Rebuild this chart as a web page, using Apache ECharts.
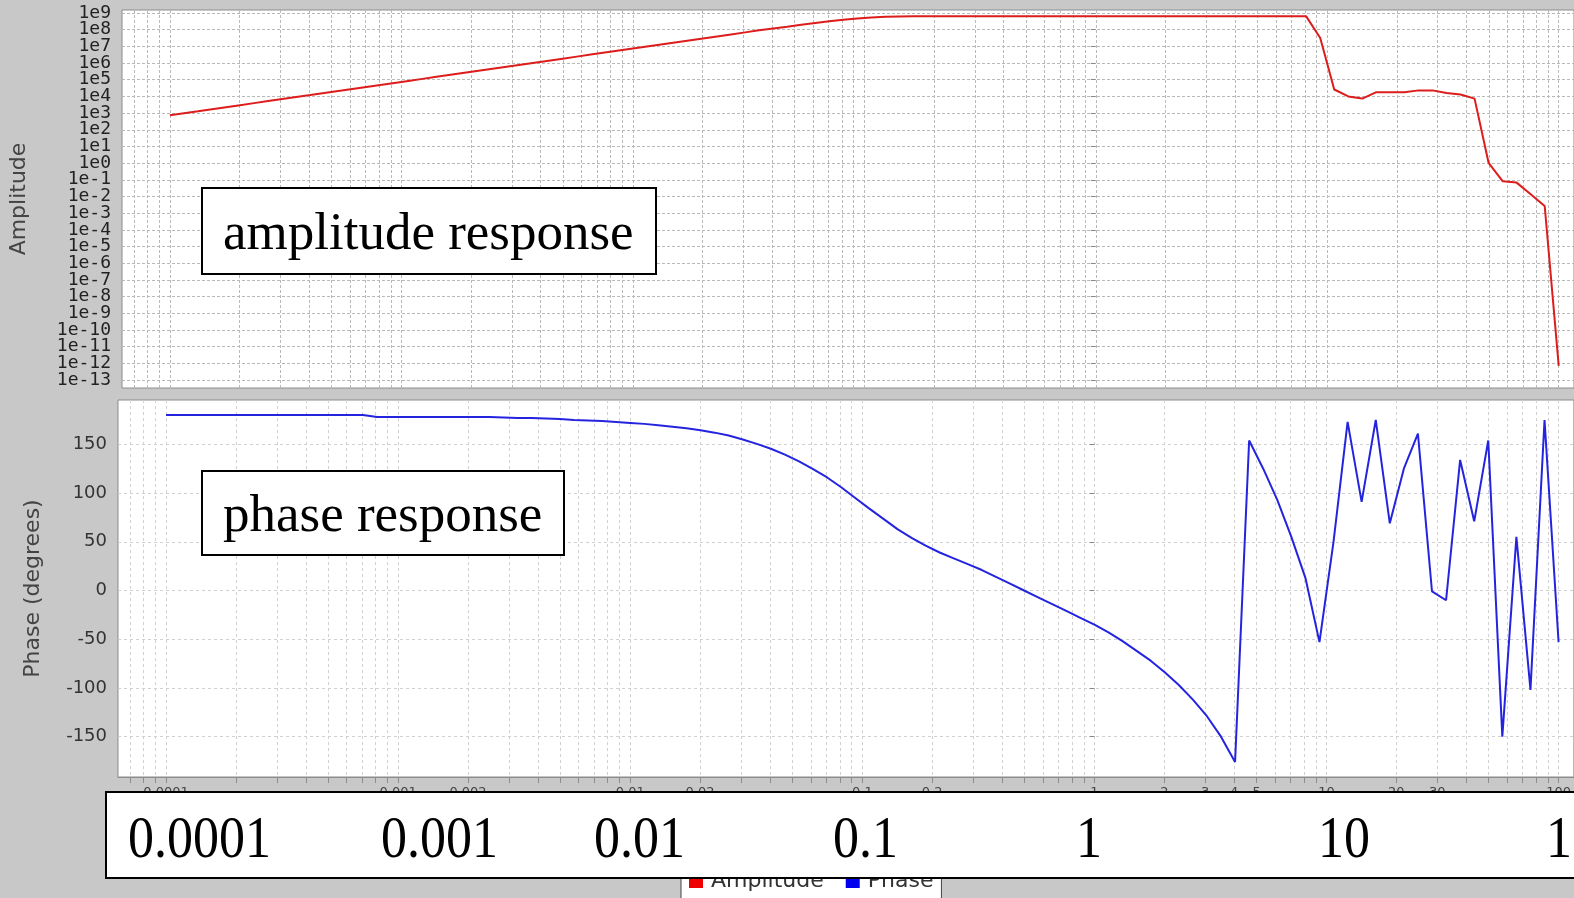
<!DOCTYPE html>
<html><head><meta charset="utf-8">
<script src="https://cdn.jsdelivr.net/npm/echarts@6/dist/echarts.min.js"></script>
<style>html,body{margin:0;padding:0;background:#c8c8c8;overflow:hidden}#chart{width:1574px;height:898px}</style>
</head><body><div id="chart"></div>
<script>
// ---- data ----
const freq = [
  0.0001, 0.000115, 0.0001322, 0.000152, 0.0001747, 0.0002009, 0.000231, 0.0002656, 0.0003054, 0.0003511, 0.0004037,
  0.0004642, 0.0005337, 0.0006136, 0.0007055, 0.0008111, 0.0009326, 0.001072, 0.001233, 0.001417, 0.00163, 0.001874,
  0.002154, 0.002477, 0.002848, 0.003275, 0.003765, 0.004329, 0.004977, 0.005722, 0.006579, 0.007565, 0.008698,
  0.01, 0.0115, 0.01322, 0.0152, 0.01747, 0.02009, 0.0231, 0.02656, 0.03054, 0.03511, 0.04037,
  0.04642, 0.05337, 0.06136, 0.07055, 0.08111, 0.09326, 0.1072, 0.1233, 0.1417, 0.163, 0.1874,
  0.2154, 0.2477, 0.2848, 0.3275, 0.3765, 0.4329, 0.4977, 0.5722, 0.6579, 0.7565, 0.8698,
  1, 1.15, 1.322, 1.52, 1.747, 2.009, 2.31, 2.656, 3.054, 3.511, 4.037,
  4.642, 5.337, 6.136, 7.055, 8.111, 9.326, 10.72, 12.33, 14.17, 16.3, 18.74,
  21.54, 24.77, 28.48, 32.75, 37.65, 43.29, 49.77, 57.22, 65.79, 75.65, 86.98,
  100
];
const amplitude = [
  741, 980, 1295, 1714, 2265, 2994, 3957, 5231, 6914, 9139,
  1.208e4, 1.597e4, 2.111e4, 2.790e4, 3.688e4, 4.875e4, 6.444e4, 8.518e4, 1.126e5, 1.488e5,
  1.967e5, 2.600e5, 3.437e5, 4.543e5, 6.005e5, 7.938e5, 1.049e6, 1.387e6, 1.834e6, 2.424e6,
  3.204e6, 4.235e6, 5.598e6, 7.400e6, 9.781e6, 1.293e7, 1.709e7, 2.259e7, 2.986e7, 3.947e7,
  5.218e7, 6.897e7, 9.117e7, 1.175e8, 1.51e8, 1.95e8, 2.51e8, 3.16e8, 3.89e8, 4.68e8,
  5.37e8, 5.89e8, 6.17e8, 6.31e8, 6.4e8, 6.4e8, 6.4e8, 6.4e8, 6.4e8, 6.4e8,
  6.4e8, 6.4e8, 6.4e8, 6.4e8, 6.4e8, 6.4e8, 6.4e8, 6.4e8, 6.4e8, 6.4e8,
  6.4e8, 6.4e8, 6.4e8, 6.4e8, 6.4e8, 6.4e8, 6.4e8, 6.4e8, 6.4e8, 6.4e8,
  6.4e8, 6.3e8, 3.2e7, 2.6e4, 1.0e4, 7.4e3, 1.8e4, 1.8e4, 1.8e4, 2.3e4,
  2.3e4, 1.6e4, 1.3e4, 7.4e3, 1.05, 8.3e-2, 6.8e-2, 1.35e-2, 2.7e-3, 7.1e-13
];
const phase = [
  180, 180, 180, 180, 180, 180, 180, 180, 180, 180,
  180, 180, 180, 180, 180, 178, 178, 178, 178, 178,
  178, 178, 178, 178, 177.5, 177, 177, 176.5, 176, 175,
  174.5, 174, 173, 172, 171, 169.5, 168, 166.5, 164.5, 162,
  159, 155, 150.5, 145.5, 139.5, 132.5, 124.5, 116, 106, 95,
  84, 73.5, 63, 54, 46, 39, 33, 27, 21, 14,
  7, 0, -7, -14, -21, -28, -35, -43, -52, -62,
  -72, -84, -97, -112, -129, -150, -176, 154, 125, 93,
  55, 13, -53, 50, 173, 91, 175, 69, 125, 161,
  -1, -10, 134, 71, 154, -150, 55, -102, 175, -53
];
const seriesNames = ['Amplitude', 'Phase'];
const axisTitles = ['Amplitude', 'Phase (degrees)'];
const freqTickLabels = [0.0001, 0.001, 0.002, 0.01, 0.02, 0.1, 0.2, 1, 2, 3, 4, 5, 10, 20, 30, 100];
const amplitudeExponents = [-13, -12, -11, -10, -9, -8, -7, -6, -5, -4, -3, -2, -1, 0, 1, 2, 3, 4, 5, 6, 7, 8, 9];
const phaseTicks = [-150, -100, -50, 0, 50, 100, 150];
const overlayFreqLabels = ['0.0001', '0.001', '0.01', '0.1', '1', '10', '100'];
const panelNotes = ['amplitude response', 'phase response'];

// ---- layout ----
const overlayFreqLabelX = [128, 381, 594, 833, 1076, 1318, 1546];
const X_MIN = -4.207, X_MAX = 2.066;
const AMP_MIN = -13.48, AMP_MAX = 9.18;
const lg = Math.log10;

const xMinor = [];
for (let d = -5; d <= 2; d++) {
  for (let m = 1; m <= 9; m++) {
    const v = d + lg(m);
    if (v >= X_MIN && v <= X_MAX) xMinor.push(v);
  }
}
const freqFmt = v => String(+Math.pow(10, v).toPrecision(3));
const expFmt = v => '1e' + Math.round(v);
// the decade labels sit closer than their height, so they are split over two stacked axes
const expEven = amplitudeExponents.filter(e => Math.abs(e) % 2 === 0);
const expOdd = amplitudeExponents.filter(e => Math.abs(e) % 2 === 1);
const ampLabelStyle = { fontFamily: 'DejaVu Sans Mono', fontSize: 18, color: '#222', margin: 11, formatter: expFmt };

const chart = echarts.init(document.getElementById('chart'), null, { renderer: 'canvas' });

const gridLineTop = { show: true, customValues: xMinor, lineStyle: { color: '#b9b9b9', width: 1, type: [3, 2] } };
const gridLineBottom = { show: true, customValues: xMinor, lineStyle: { color: '#d0d0d0', width: 1, type: [3, 3] } };

const graphicEls = [];
const noteBoxes = [
  { x: 202, y: 188, w: 454, h: 86 },
  { x: 202, y: 471, w: 362, h: 84 }
];
panelNotes.forEach((t, i) => {
  const b = noteBoxes[i];
  graphicEls.push({ type: 'rect', z: 100, shape: { x: b.x, y: b.y, width: b.w, height: b.h },
    style: { fill: '#ffffff', stroke: '#000000', lineWidth: 2 } });
  graphicEls.push({ type: 'text', z: 101, x: b.x + 21, y: b.y + b.h / 2 + 4,
    style: { text: t, fill: '#000', font: '53px "Liberation Serif", "Times New Roman", serif',
      textAlign: 'left', align: 'left', textVerticalAlign: 'middle', verticalAlign: 'middle' } });
});
graphicEls.push({ type: 'rect', z: 100, shape: { x: 106, y: 792, width: 1520, height: 86 },
  style: { fill: '#ffffff', stroke: '#000000', lineWidth: 2 } });
overlayFreqLabels.forEach((t, i) => {
  graphicEls.push({ type: 'text', z: 101, x: overlayFreqLabelX[i], y: 842, scaleY: 1.13,
    style: { text: t, fill: '#000', font: '52px "Liberation Serif", "Times New Roman", serif',
      textAlign: 'left', align: 'left', textVerticalAlign: 'middle', verticalAlign: 'middle' } });
});

const option = {
  backgroundColor: '#c8c8c8',
  animation: false,
  legend: {
    data: seriesNames, left: 681, top: 866, icon: 'rect', itemWidth: 14, itemHeight: 14, itemGap: 22,
    backgroundColor: '#ffffff', borderColor: '#444', borderWidth: 1, borderRadius: 0, padding: [4, 8, 12, 8],
    textStyle: { fontSize: 22, fontFamily: 'DejaVu Sans', color: '#333', padding: [0, 0, 0, 3] }
  },
  grid: [
    { left: 118, right: 0, top: 10, height: 378, show: true, backgroundColor: '#ffffff', borderColor: '#8c8c8c', borderWidth: 1 },
    { left: 118, right: 0, top: 400, height: 377, show: true, backgroundColor: '#ffffff', borderColor: '#8c8c8c', borderWidth: 1 }
  ],
  xAxis: [
    { gridIndex: 0, type: 'value', min: X_MIN, max: X_MAX,
      axisLine: { show: false }, axisTick: { show: false, customValues: xMinor },
      axisLabel: { show: false }, splitLine: gridLineTop },
    { gridIndex: 1, type: 'value', min: X_MIN, max: X_MAX,
      axisLine: { show: true, onZero: false, lineStyle: { color: '#8c8c8c' } },
      axisTick: { show: true, customValues: xMinor, length: 6, lineStyle: { color: '#8c8c8c' } },
      axisLabel: { customValues: freqTickLabels.map(lg), formatter: freqFmt, fontSize: 13, color: '#444', margin: 9, fontFamily: 'DejaVu Sans' },
      splitLine: gridLineBottom }
  ],
  yAxis: [
    { gridIndex: 0, type: 'value', min: AMP_MIN, max: AMP_MAX, position: 'left',
      name: axisTitles[0], nameLocation: 'middle', nameGap: 92,
      nameTextStyle: { fontSize: 22, fontFamily: 'DejaVu Sans', color: '#444' },
      axisLine: { show: false },
      axisTick: { show: true, customValues: amplitudeExponents, length: 5, lineStyle: { color: '#888' } },
      axisLabel: Object.assign({ customValues: expEven }, ampLabelStyle),
      splitLine: { show: true, customValues: amplitudeExponents, lineStyle: { color: '#b9b9b9', width: 1, type: [3, 2] } } },
    { gridIndex: 1, type: 'value', min: -191.4, max: 195.5,
      name: axisTitles[1], nameLocation: 'middle', nameGap: 74,
      nameTextStyle: { fontSize: 22, fontFamily: 'DejaVu Sans', color: '#444' },
      axisLine: { show: false },
      axisTick: { show: true, customValues: phaseTicks, length: 5, lineStyle: { color: '#888' } },
      axisLabel: { customValues: phaseTicks, fontFamily: 'DejaVu Sans', fontSize: 18, color: '#333', margin: 11 },
      splitLine: { show: true, customValues: phaseTicks, lineStyle: { color: '#d0d0d0', width: 1, type: [3, 3] } } },
    { gridIndex: 0, type: 'value', min: AMP_MIN, max: AMP_MAX, position: 'left', offset: 0,
      axisLine: { show: false }, axisTick: { show: false, customValues: expOdd },
      axisLabel: Object.assign({ customValues: expOdd }, ampLabelStyle),
      splitLine: { show: false } }
  ],
  series: [
    { name: seriesNames[0], type: 'line', xAxisIndex: 0, yAxisIndex: 0, symbol: 'none', z: 3,
      data: freq.map((f, i) => [lg(f), lg(amplitude[i])]),
      lineStyle: { color: '#dd1c1c', width: 2 }, itemStyle: { color: '#ee0000' } },
    { name: seriesNames[1], type: 'line', xAxisIndex: 1, yAxisIndex: 1, symbol: 'none', z: 3,
      data: freq.map((f, i) => [lg(f), phase[i]]),
      lineStyle: { color: '#2424e0', width: 2 }, itemStyle: { color: '#0000ee' } }
  ],
  graphic: { elements: graphicEls }
};
chart.setOption(option);
</script>
</body></html>
